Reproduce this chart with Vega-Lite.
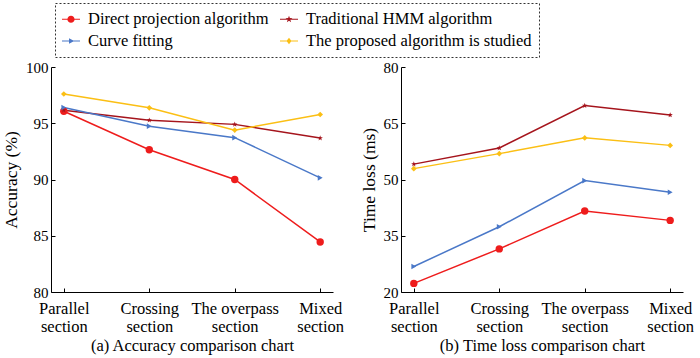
{
  "$schema": "https://vega.github.io/schema/vega-lite/v6.json",
  "padding": {"left": 2, "top": 2, "right": 2, "bottom": 2},
  "config": {
    "font": "Liberation Serif",
    "view": {"stroke": null},
    "axis": {
      "grid": false,
      "domainColor": "#000",
      "tickColor": "#000",
      "labelColor": "#000",
      "titleColor": "#000",
      "labelFontSize": 15,
      "titleFontSize": 17.5,
      "titleFontWeight": "normal",
      "labelFont": "Liberation Serif",
      "titleFont": "Liberation Serif"
    },
    "legend": {"labelFont": "Liberation Serif", "labelFontSize": 16.5, "labelColor": "#000", "labelLimit": 0}
  },
  "datasets": {
    "rows": [
      {"panel": "a", "section": "Parallel section", "algo": "Direct projection algorithm", "value": 96.07},
      {"panel": "a", "section": "Crossing section", "algo": "Direct projection algorithm", "value": 92.65},
      {"panel": "a", "section": "The overpass section", "algo": "Direct projection algorithm", "value": 90.0},
      {"panel": "a", "section": "Mixed section", "algo": "Direct projection algorithm", "value": 84.45},
      {"panel": "a", "section": "Parallel section", "algo": "Traditional HMM algorithm", "value": 96.16},
      {"panel": "a", "section": "Crossing section", "algo": "Traditional HMM algorithm", "value": 95.27},
      {"panel": "a", "section": "The overpass section", "algo": "Traditional HMM algorithm", "value": 94.9},
      {"panel": "a", "section": "Mixed section", "algo": "Traditional HMM algorithm", "value": 93.68},
      {"panel": "a", "section": "Parallel section", "algo": "Curve fitting", "value": 96.4},
      {"panel": "a", "section": "Crossing section", "algo": "Curve fitting", "value": 94.74},
      {"panel": "a", "section": "The overpass section", "algo": "Curve fitting", "value": 93.72},
      {"panel": "a", "section": "Mixed section", "algo": "Curve fitting", "value": 90.15},
      {"panel": "a", "section": "Parallel section", "algo": "The proposed algorithm is studied", "value": 97.6},
      {"panel": "a", "section": "Crossing section", "algo": "The proposed algorithm is studied", "value": 96.37},
      {"panel": "a", "section": "The overpass section", "algo": "The proposed algorithm is studied", "value": 94.39},
      {"panel": "a", "section": "Mixed section", "algo": "The proposed algorithm is studied", "value": 95.78},
      {"panel": "b", "section": "Parallel section", "algo": "Direct projection algorithm", "value": 22.3},
      {"panel": "b", "section": "Crossing section", "algo": "Direct projection algorithm", "value": 31.5},
      {"panel": "b", "section": "The overpass section", "algo": "Direct projection algorithm", "value": 41.6},
      {"panel": "b", "section": "Mixed section", "algo": "Direct projection algorithm", "value": 39.1},
      {"panel": "b", "section": "Parallel section", "algo": "Traditional HMM algorithm", "value": 54.1},
      {"panel": "b", "section": "Crossing section", "algo": "Traditional HMM algorithm", "value": 58.4},
      {"panel": "b", "section": "The overpass section", "algo": "Traditional HMM algorithm", "value": 69.7},
      {"panel": "b", "section": "Mixed section", "algo": "Traditional HMM algorithm", "value": 67.2},
      {"panel": "b", "section": "Parallel section", "algo": "Curve fitting", "value": 26.8},
      {"panel": "b", "section": "Crossing section", "algo": "Curve fitting", "value": 37.4},
      {"panel": "b", "section": "The overpass section", "algo": "Curve fitting", "value": 49.7},
      {"panel": "b", "section": "Mixed section", "algo": "Curve fitting", "value": 46.6},
      {"panel": "b", "section": "Parallel section", "algo": "The proposed algorithm is studied", "value": 52.9},
      {"panel": "b", "section": "Crossing section", "algo": "The proposed algorithm is studied", "value": 56.9},
      {"panel": "b", "section": "The overpass section", "algo": "The proposed algorithm is studied", "value": 61.1},
      {"panel": "b", "section": "Mixed section", "algo": "The proposed algorithm is studied", "value": 59.1}
    ]
  },
  "data": {"name": "rows"},
  "spacing": 16,
  "hconcat": [
    {
      "width": 282,
      "height": 225,
      "transform": [{"filter": "datum.panel == 'a'"}],
      "encoding": {
        "x": {
          "field": "section", "type": "nominal", "sort": null,
          "scale": {"type": "point", "padding": 0.15, "domain": ["Parallel section", "Crossing section", "The overpass section", "Mixed section"]},
          "axis": {"title": "(a) Accuracy comparison chart", "labelAngle": 0, "tickSize": -4, "labelPadding": 12, "labelFontSize": 16.5, "titlePadding": 2, "titleFontSize": 16.5,
            "labelExpr": "datum.label == 'The overpass section' ? ['The overpass', 'section'] : split(datum.label, ' ')"}
        },
        "y": {
          "field": "value", "type": "quantitative",
          "scale": {"domain": [80, 100]},
          "axis": {"title": "Accuracy (%)", "values": [80, 85, 90, 95, 100], "tickSize": -4, "labelPadding": 7, "titlePadding": 5}
        },
        "color": {
          "field": "algo", "type": "nominal",
          "scale": {"domain": ["Direct projection algorithm", "Traditional HMM algorithm", "Curve fitting", "The proposed algorithm is studied"],
                    "range": ["#ee1c1c", "#a5141c", "#4a78c8", "#fbbf14"]},
          "legend": {"title": null, "orient": "none", "direction": "horizontal", "legendX": 4, "legendY": -64, "columns": 2, "columnPadding": 11, "rowPadding": 4, "symbolSize": 324, "symbolStrokeWidth": 0,
            "labelOffset": 8, "padding": 7, "strokeColor": "#333",
            "encode": {
              "legend": {"update": {"strokeDash": {"value": [2, 2]}}},
              "symbols": {"update": {
                "fill": {"scale": "color", "field": "value"},
                "opacity": {"value": 1},
                "shape": {"signal": "datum.value == 'Direct projection algorithm' ? 'M-1,-0.06H1V0.06H-1Z M0.4,0A0.4,0.4 0 1,1 -0.4,0A0.4,0.4 0 1,1 0.4,0Z' : datum.value == 'Traditional HMM algorithm' ? 'M-1,-0.06H1V0.06H-1Z M0,-0.4L0.094,-0.13L0.38,-0.124L0.152,0.05L0.235,0.324L0,0.16L-0.235,0.324L-0.152,0.05L-0.38,-0.124L-0.094,-0.13Z' : datum.value == 'Curve fitting' ? 'M-1,-0.06H1V0.06H-1Z M-0.22,-0.3L0.36,0L-0.22,0.3Z' : 'M-1,-0.06H1V0.06H-1Z M0,-0.36L0.28,0L0,0.36L-0.28,0Z'"}}}
            }}
        }
      },
      "layer": [
        {"mark": {"type": "line", "strokeWidth": 1.5}},
        {"mark": {"type": "point", "filled": true, "opacity": 1},
         "encoding": {
           "shape": {"condition": [
               {"test": "datum.algo == 'Direct projection algorithm'", "value": "circle"},
               {"test": "datum.algo == 'Traditional HMM algorithm'", "value": "M0,-1L0.235,-0.324L0.951,-0.309L0.38,0.124L0.588,0.809L0,0.4L-0.588,0.809L-0.38,0.124L-0.951,-0.309L-0.235,-0.324Z"},
               {"test": "datum.algo == 'Curve fitting'", "value": "triangle-right"}
             ], "value": "diamond"},
           "size": {"condition": {"test": "datum.algo == 'Direct projection algorithm'", "value": 55}, "value": 32}
         }}
      ]
    },
    {
      "width": 282,
      "height": 225,
      "transform": [{"filter": "datum.panel == 'b'"}],
      "encoding": {
        "x": {
          "field": "section", "type": "nominal", "sort": null,
          "scale": {"type": "point", "padding": 0.15, "domain": ["Parallel section", "Crossing section", "The overpass section", "Mixed section"]},
          "axis": {"title": "(b) Time loss comparison chart", "labelAngle": 0, "tickSize": -4, "labelPadding": 12, "labelFontSize": 16.5, "titlePadding": 2, "titleFontSize": 16.5,
            "labelExpr": "datum.label == 'The overpass section' ? ['The overpass', 'section'] : split(datum.label, ' ')"}
        },
        "y": {
          "field": "value", "type": "quantitative",
          "scale": {"domain": [20, 80]},
          "axis": {"title": "Time loss (ms)", "values": [20, 35, 50, 65, 80], "tickSize": -4, "labelPadding": 7, "titlePadding": 5}
        },
        "color": {"field": "algo", "type": "nominal"}
      },
      "layer": [
        {"mark": {"type": "line", "strokeWidth": 1.5}},
        {"mark": {"type": "point", "filled": true, "opacity": 1},
         "encoding": {
           "shape": {"condition": [
               {"test": "datum.algo == 'Direct projection algorithm'", "value": "circle"},
               {"test": "datum.algo == 'Traditional HMM algorithm'", "value": "M0,-1L0.235,-0.324L0.951,-0.309L0.38,0.124L0.588,0.809L0,0.4L-0.588,0.809L-0.38,0.124L-0.951,-0.309L-0.235,-0.324Z"},
               {"test": "datum.algo == 'Curve fitting'", "value": "triangle-right"}
             ], "value": "diamond"},
           "size": {"condition": {"test": "datum.algo == 'Direct projection algorithm'", "value": 55}, "value": 32}
         }}
      ]
    }
  ]
}
